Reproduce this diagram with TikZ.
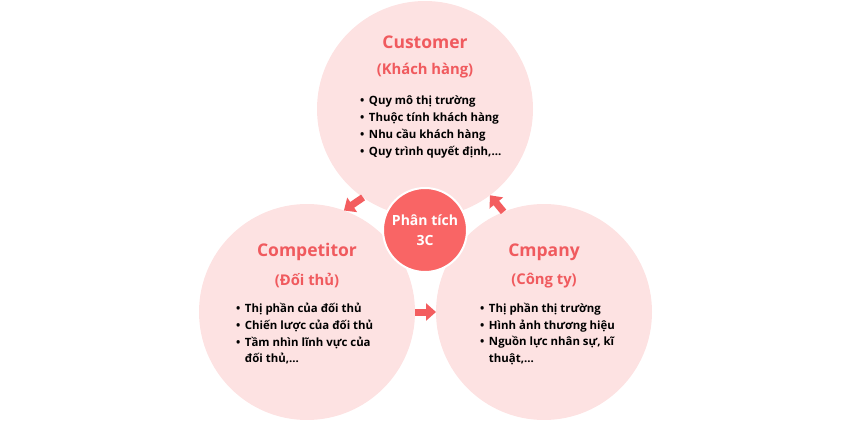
\documentclass[tikz,border=0pt]{standalone}
\usepackage{fontspec}
\setmainfont{Open Sans}
\usetikzlibrary{arrows.meta}
\definecolor{disc}{HTML}{FDE2E2}
\definecolor{head}{HTML}{F05A5E}
\definecolor{core}{HTML}{F96565}
\definecolor{flow}{HTML}{F35D5F}
\newcommand{\bul}{•\hspace{4.5pt}}

\begin{document}
\begin{tikzpicture}[x=1pt,y=1pt,
  cbox/.style={circle,fill=disc,minimum size=216pt,inner sep=0pt,outer sep=0pt},
  title/.style={font=\fontsize{17.5}{20}\selectfont\bfseries,text=head},
  subtitle/.style={font=\fontsize{14.8}{17}\selectfont\bfseries,text=head},
  items/.style={font=\fontsize{11.4}{16.7}\selectfont\bfseries,align=left,anchor=north west,inner sep=0pt},
  flowarrow/.style={flow,line width=7pt,-{Triangle[width=17pt,length=10pt]}}]
  \useasboundingbox (0,0) rectangle (851,426);

  % The three C circles
  \node[cbox] (customer) at (425,317) {};
  \node[cbox] (competitor) at (307,114) {};
  \node[cbox] (company) at (544,114) {};

  % Customer
  \node[title] (custtitle) at (425,384) {Customer};
  \node[subtitle] (custsub) at (425,355) {(Khách hàng)};
  \node[items] (custitems) at (360,330) {\bul Quy mô thị trường\\\bul Thuộc tính khách hàng\\\bul Nhu cầu khách hàng\\\bul Quy trình quyết định,...};

  % Competitor
  \node[title] (comptitle) at (307,174) {Competitor};
  \node[subtitle] (compsub) at (307,145) {(Đối thủ)};
  \node[items] (compitems) at (236,123) {\bul Thị phần của đối thủ\\\bul Chiến lược của đối thủ\\\bul Tầm nhìn lĩnh vực của\\\phantom{\bul}đối thủ,...};

  % Company
  \node[title] (cotitle) at (544,174) {Cmpany};
  \node[subtitle] (cosub) at (544,145) {(Công ty)};
  \node[items] (coitems) at (480,123) {\bul Thị phần thị trường\\\bul Hình ảnh thương hiệu\\\bul Nguồn lực nhân sự, kĩ\\\phantom{\bul}thuật,...};

  % Arrows between the circles
  \draw[flowarrow] (customer.235) -- (competitor.70);
  \draw[flowarrow] (competitor.east) -- (company.west);
  \draw[flowarrow] (company.112) -- (customer.307);

  % Centre circle
  \node[circle,fill=core,draw=white,line width=2pt,minimum size=84pt,inner sep=0pt,
        align=center,text=white,font=\fontsize{14}{20}\selectfont\bfseries] (center) at (425,196) {Phân tích\\3C};
\end{tikzpicture}
\end{document}
